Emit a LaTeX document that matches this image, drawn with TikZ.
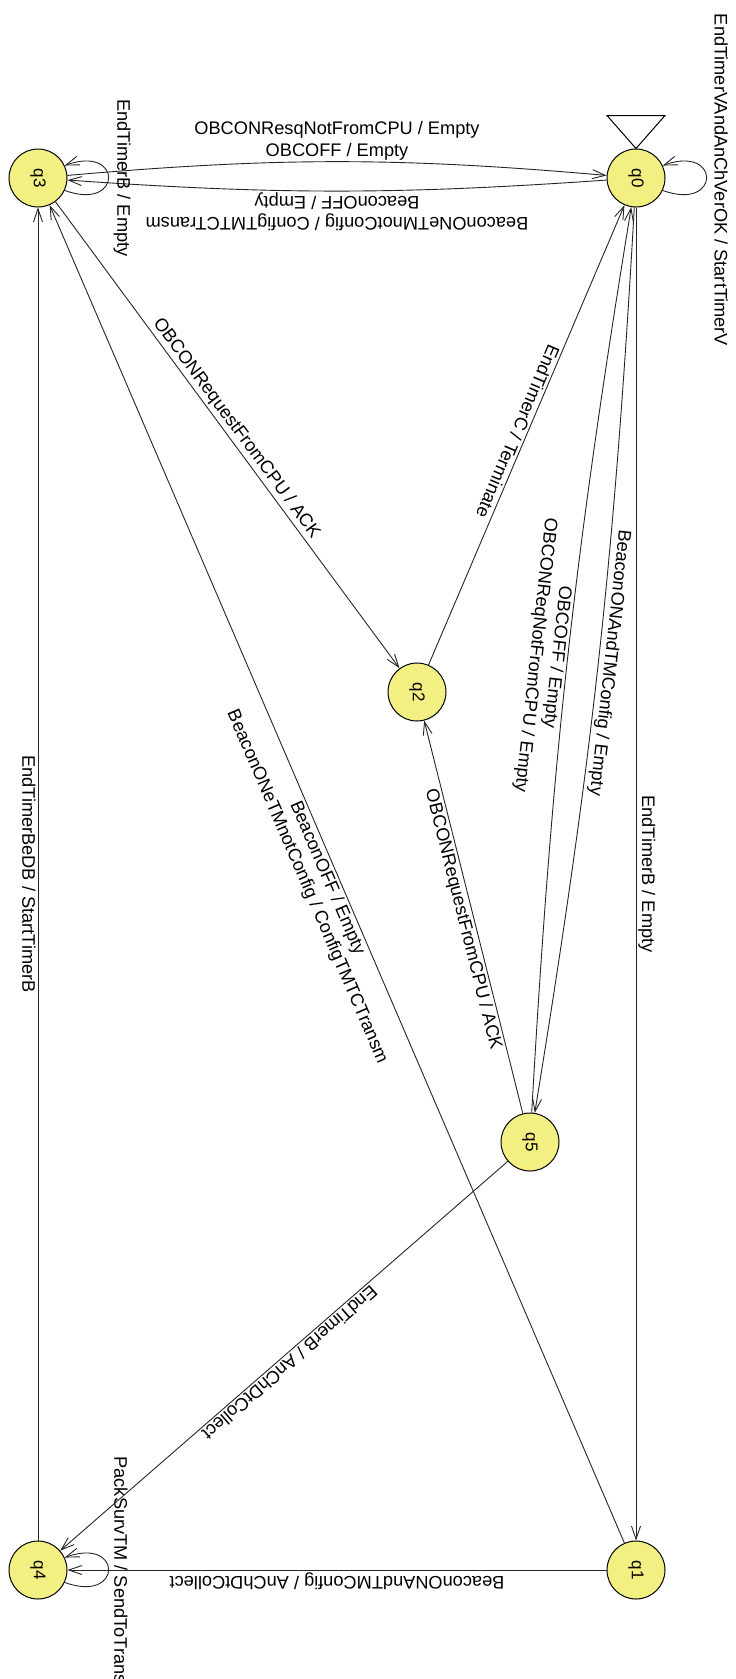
\documentclass[tikz,border=0pt]{standalone}
\usepackage{fontspec}
\usepackage{graphicx}
\setmainfont{Liberation Sans}
\usetikzlibrary{arrows.meta}
\definecolor{stfill}{RGB}{242,240,130}
\begin{document}
\begin{tikzpicture}[x=1pt,y=1pt,
  state/.style={circle, draw, fill=stfill, minimum size=58pt, inner sep=0pt, line width=1pt, font=\fontsize{17}{20}\selectfont},
  tr/.style={draw=black!85, line width=0.9pt, -{Straight Barb[length=13pt,width=9pt]}},
  trr/.style={draw=black!85, line width=0.9pt, {Straight Barb[length=13pt,width=9pt]}-},
  lbl/.style={font=\fontsize{18.2}{21.7}\selectfont, inner sep=2pt, align=center},
]
\useasboundingbox (0,0) rectangle (736,-1679);
% states
\node[state] (q0) at (636,-178) {\rotatebox{-90}{q0}};
\node[state] (q3) at (38,-178) {\rotatebox{-90}{q3}};
\node[state] (q2) at (417,-692) {\rotatebox{-90}{q2}};
\node[state] (q5) at (530,-1142) {\rotatebox{-90}{q5}};
\node[state] (q1) at (636,-1570) {\rotatebox{-90}{q1}};
\node[state] (q4) at (38,-1570) {\rotatebox{-90}{q4}};
% initial marker
\draw[line width=1pt] (q0.north) -- ++(-29,33) -- ++(58,0) -- cycle;
% q3 <-> q0
\draw[tr] (q3) to[bend left=5] node[lbl, sloped, above, inner sep=1pt] (l30) {OBCONResqNotFromCPU / Empty\\OBCOFF / Empty} (q0);
\draw[tr] (q0) to[bend left=4] node[lbl, sloped, allow upside down, above, inner sep=1pt] (l03) {BeaconONeTMnotConfig / ConfigTMTCTransm\\BeaconOFF / Empty} (q3);
% self loops
\draw[tr] (q0.-25) .. controls +(-20:62) and +(20:62) .. (q0.25);
\node[lbl, rotate=-90] (lq0) at (721,-180) {EndTimerVAndAnChVerOK / StartTimerV};
\draw[tr] (q3.-25) .. controls +(-20:62) and +(20:62) .. (q3.25);
\node[lbl, rotate=-90] (lq3) at (122,-178) {EndTimerB / Empty};
\draw[tr] (q4.-25) .. controls +(-20:62) and +(20:62) .. (q4.25);
\node[lbl, rotate=-90] (lq4) at (121,-1570) {PackSurvTM / SendToTrans};
% q0 -> q1
\draw[tr] (q0) -- node[lbl, sloped, allow upside down, above] (l01) {EndTimerB / Empty} (q1);
% q1 -> q4
\draw[tr] (q1) -- node[lbl, sloped, allow upside down, above] (l14) {BeaconONAndTMConfig / AnChDtCollect} (q4);
% q4 -> q3
\draw[trr] (q3) -- node[lbl, sloped, allow upside down, below] (l43) {EndTimerBeDB / StartTimerB} (q4);
% q3 -> q2
\draw[tr] (q3) -- node[lbl, sloped, above] (l32) {OBCONRequestFromCPU / ACK} (q2);
% q2 -> q0
\draw[trr] (q0) -- node[lbl, sloped, allow upside down, below] (l20) {EndTimerC / Terminate} (q2);
% q5 -> q2
\draw[trr] (q2) -- node[lbl, sloped, allow upside down, below] (l52) {OBCONRequestFromCPU / ACK} (q5);
% q0 <-> q5
\draw[tr] (q0) to[bend left=3] node[lbl, sloped, allow upside down, above] (l05) {BeaconONAndTMConfig / Empty} (q5);
\draw[trr] (q0) to[bend right=3] node[lbl, sloped, allow upside down, below] (l50) {OBCOFF / Empty\\OBCONReqNotFromCPU / Empty} (q5);
% q1 -> q3
\draw[trr] (q3) -- node[lbl, sloped, allow upside down, below] (l13) {BeaconOFF / Empty\\BeaconONeTMnotConfig / ConfigTMTCTransm} (q1);
% q5 -> q4
\draw[tr] (q5) -- node[lbl, sloped, allow upside down, above] (l54) {EndTimerB / AnChDtCollect} (q4);
\end{tikzpicture}
\end{document}
